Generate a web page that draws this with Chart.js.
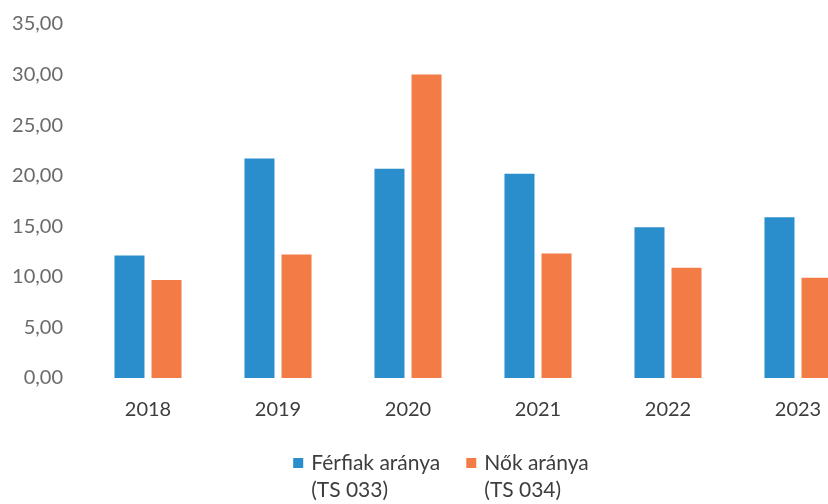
<!DOCTYPE html>
<html>
<head>
<meta charset="utf-8">
<script src="https://cdn.jsdelivr.net/npm/chart.js@4/dist/chart.umd.min.js"></script>
<style>
  html, body { margin: 0; padding: 0; background: #fff; overflow: hidden; }
  #wrap { width: 890px; height: 504px; }
</style>
</head>
<body>
<div id="wrap"><canvas id="chart"></canvas></div>
<script>
const years = ["2018", "2019", "2020", "2021", "2022", "2023"];
const ferfiak = [12.1, 21.7, 20.7, 20.2, 14.9, 15.9];
const nok = [9.7, 12.2, 30.0, 12.3, 10.9, 9.9];
const labelFerfiak = ["Férfiak aránya", "(TS 033)"];
const labelNok = ["Nők aránya", "(TS 034)"];

const blue = "#2a8dcc";
const orange = "#f27b46";

// two-line legend drawn under the axis (the built in one cuts the second line)
const bottomLegend = {
    id: 'bottomLegend',
    afterDraw(chart) {
        const c = chart.ctx;
        const items = [
            { text: labelFerfiak, color: blue },
            { text: labelNok, color: orange }
        ];
        const box = 10, gap = 8, spacing = 26, lineH = 27;
        c.save();
        c.font = '21px Lato';
        c.textBaseline = 'alphabetic';
        c.textAlign = 'left';
        const widths = items.map(it => Math.max(...it.text.map(t => c.measureText(t).width)));
        let total = 0;
        widths.forEach((w, i) => { total += box + gap + w + (i > 0 ? spacing : 0); });
        let x = 441 - total / 2;
        const y = 470;
        items.forEach((it, i) => {
            c.fillStyle = it.color;
            c.fillRect(x, y - 12, box, box);
            c.fillStyle = '#3d3d3d';
            it.text.forEach((t, j) => c.fillText(t, x + box + gap, y + j * lineH));
            x += box + gap + widths[i] + spacing;
        });
        c.restore();
    }
};

const ctx = document.getElementById("chart");
new Chart(ctx, {
    type: 'bar',
    data: {
        labels: years,
        datasets: [
            { label: labelFerfiak.join(" "), data: ferfiak, backgroundColor: blue },
            { label: labelNok.join(" "), data: nok, backgroundColor: orange }
        ]
    },
    options: {
        responsive: true,
        maintainAspectRatio: false,
        animation: false,
        layout: { padding: { left: 8, right: 27, top: 24, bottom: 76 } },
        datasets: {
            bar: { categoryPercentage: 0.57, barPercentage: 0.81 }
        },
        scales: {
            x: {
                grid: { display: false, drawTicks: false },
                border: { display: false },
                ticks: { color: '#3d3d3d', font: { family: 'Lato', size: 20 }, padding: 20 },
                afterFit: s => { s.height = 50; }
            },
            y: {
                min: 0,
                max: 35,
                grid: { display: false, drawTicks: false },
                border: { display: false },
                ticks: {
                    stepSize: 5,
                    color: '#6a6a6a',
                    font: { family: 'Lato', size: 20 },
                    padding: 20,
                    callback: v => v.toFixed(2).replace('.', ',')
                },
                afterFit: s => { s.width = 75; s.paddingTop = 0; s.paddingBottom = 0; }
            }
        },
        plugins: {
            tooltip: { enabled: false },
            legend: { display: false }
        }
    },
    plugins: [bottomLegend]
});
</script>
</body>
</html>
